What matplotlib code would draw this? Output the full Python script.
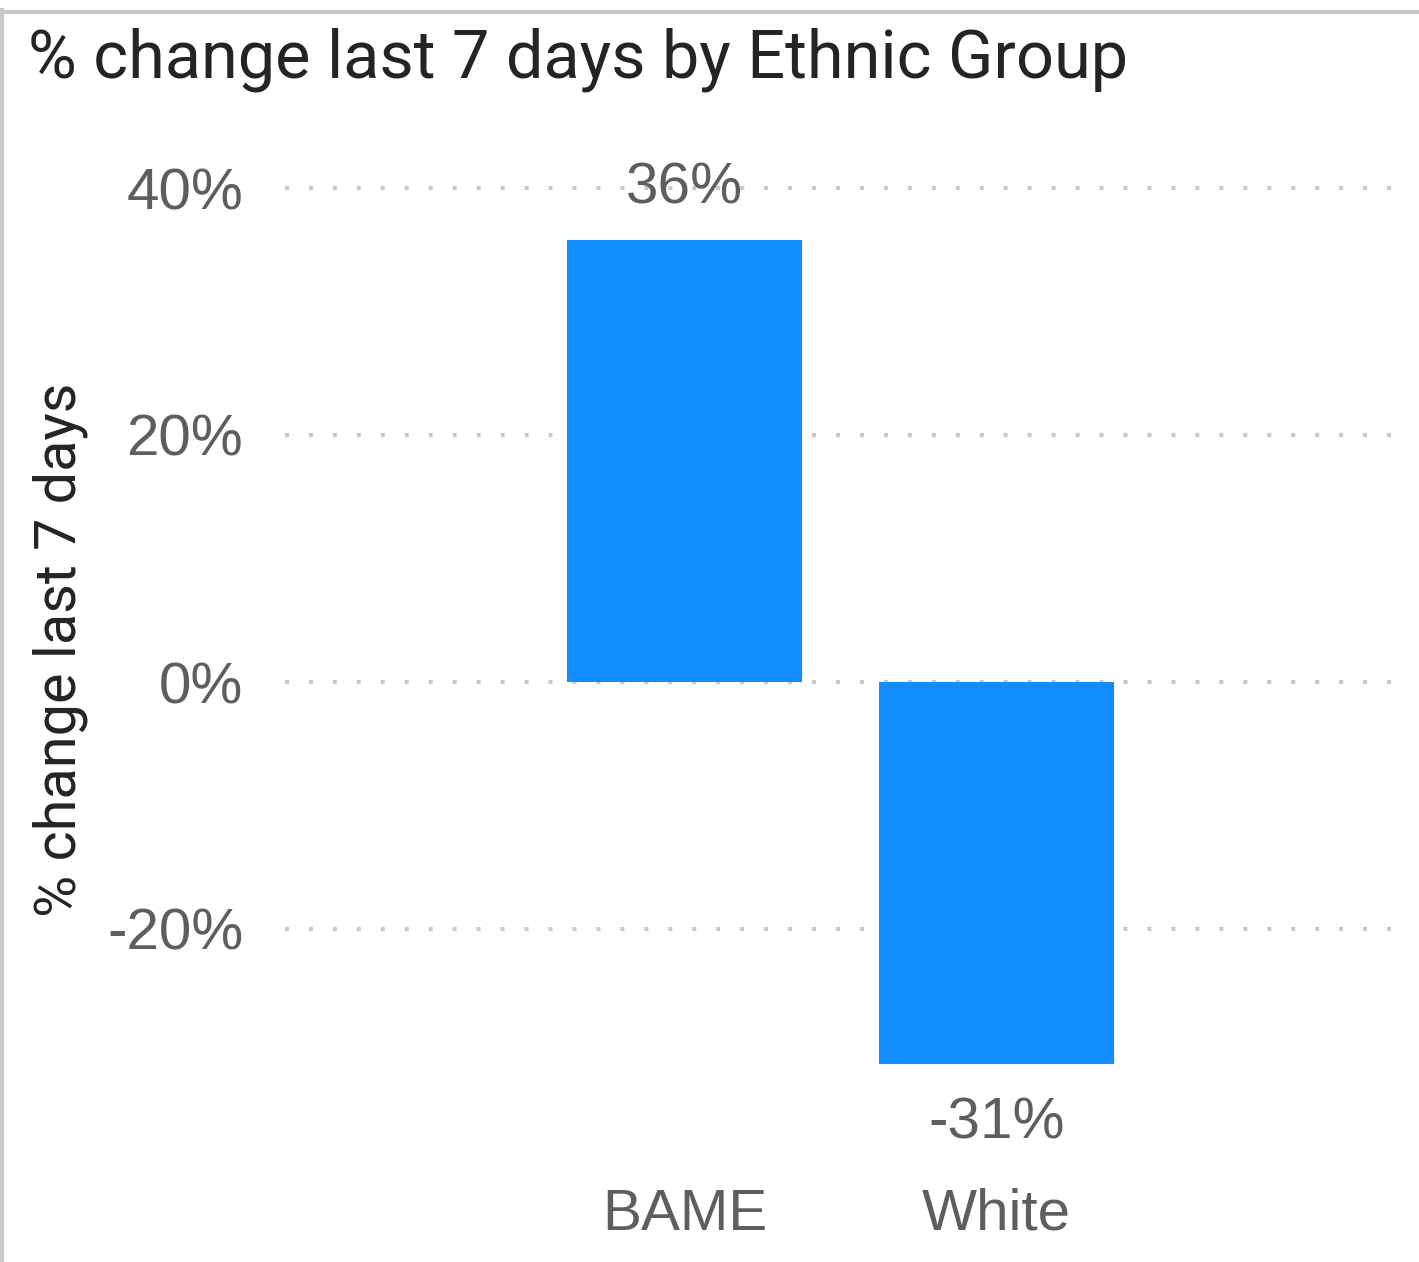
import numpy as np
import matplotlib.pyplot as plt
from matplotlib.lines import Line2D

# data
groups = ['BAME', 'White']
pct_change = [0.358, -0.309]
y_ticks = [-0.2, 0.0, 0.2, 0.4]

W, H = 1419, 1262
fig = plt.figure(figsize=(W / 100, H / 100), dpi=100)

# axes placed in pixel terms
left_px, right_px, top_px, bottom_px = 285, 1396, 160, 1150
ax = fig.add_axes([left_px / W, 1 - bottom_px / H,
                   (right_px - left_px) / W, (bottom_px - top_px) / H])

zero_px = 682
px_per_unit = 247 / 0.2
ax.set_ylim(-(bottom_px - zero_px) / px_per_unit, (zero_px - top_px) / px_per_unit)
ax.set_xlim(-1.28, 2.28)

x = np.arange(len(groups))
bars = ax.bar(x, pct_change, width=0.755, color='#118DFF', zorder=3)

# dotted grid
for t in y_ticks:
    ax.axhline(t, color='#c8c8c8', linewidth=3, linestyle=(0, (0.95, 4.8)),
               dash_capstyle='butt', zorder=1)

for s in ax.spines.values():
    s.set_visible(False)

tick_font = dict(family='Liberation Sans', size=42, color='#605E5C')
ax.set_yticks(y_ticks)
ax.set_yticklabels([f'{round(t * 100):.0f}%' for t in y_ticks], **tick_font)
ax.set_xticks(x)
ax.set_xticklabels(groups, **tick_font)
ax.tick_params(axis='both', length=0)
ax.tick_params(axis='y', pad=30)
ax.tick_params(axis='x', pad=27)

# data labels
for xi, v in zip(x, pct_change):
    off = 37 if v >= 0 else -43
    ax.annotate(f'{round(v * 100):.0f}%', (xi, v), xytext=(0, off),
                textcoords='offset points', ha='center', va='center',
                annotation_clip=False, **tick_font)

# title and y label
fig.text(28 / W, 1 - 78 / H, '% change last 7 days by Ethnic Group',
         family='Roboto', size=48, color='#252423', ha='left', va='baseline')
fig.text(60 / W, 1 - 650 / H, '% change last 7 days', family='Roboto',
         size=41.5, color='#252423', rotation=90, ha='center', va='center')

# visual frame (top and left edges)
fig.add_artist(Line2D([0, 1], [1 - 12 / H, 1 - 12 / H], color='#c8c8c8',
                      linewidth=3, transform=fig.transFigure))
fig.add_artist(Line2D([2 / W, 2 / W], [0, 1 - 10 / H], color='#c8c8c8',
                      linewidth=3, transform=fig.transFigure))

fig.savefig('out.png', dpi=100)
